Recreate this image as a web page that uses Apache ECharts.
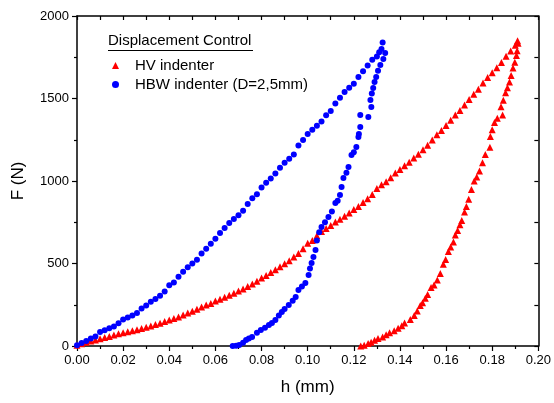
<!DOCTYPE html>
<html>
<head>
  <meta charset="UTF-8">
  <title>Displacement Control</title>
  <script src="https://cdn.jsdelivr.net/npm/echarts@6/dist/echarts.min.js"></script>
  <style>
    html, body { margin: 0; padding: 0; background: #fff; }
    #chart { width: 554px; height: 403px; }
  </style>
</head>
<body>
  <div id="chart"></div>
  <script>
    // h (mm), F (N)
    var hvLoad = [
      [0.000, 5], [0.002, 14], [0.004, 22], [0.006, 30], [0.008, 36], [0.010, 44],
      [0.012, 52], [0.014, 58], [0.016, 66], [0.018, 74], [0.020, 80], [0.022, 86],
      [0.024, 92], [0.026, 98], [0.028, 106], [0.030, 113], [0.032, 121], [0.034, 130],
      [0.036, 138], [0.038, 148], [0.040, 157], [0.042, 166], [0.044, 176], [0.046, 188],
      [0.048, 200], [0.050, 211], [0.052, 222], [0.054, 236], [0.056, 248], [0.058, 258],
      [0.060, 272], [0.062, 284], [0.064, 296], [0.066, 308], [0.068, 320], [0.070, 334],
      [0.072, 346], [0.074, 360], [0.076, 376], [0.078, 392], [0.080, 412], [0.082, 428],
      [0.084, 445], [0.086, 462], [0.088, 480], [0.090, 498], [0.092, 516], [0.094, 540],
      [0.096, 560], [0.098, 590], [0.100, 622], [0.102, 640], [0.104, 668], [0.106, 694],
      [0.108, 712], [0.110, 730], [0.112, 752], [0.114, 768], [0.116, 786], [0.118, 806],
      [0.120, 828], [0.122, 846], [0.124, 870], [0.126, 892], [0.128, 918], [0.130, 954],
      [0.132, 978], [0.134, 996], [0.136, 1020], [0.138, 1048], [0.140, 1070], [0.142, 1092],
      [0.144, 1114], [0.146, 1140], [0.148, 1162], [0.150, 1190], [0.152, 1216], [0.154, 1248],
      [0.156, 1280], [0.158, 1306], [0.160, 1336], [0.162, 1368], [0.164, 1400], [0.166, 1428],
      [0.168, 1460], [0.170, 1494], [0.172, 1526], [0.174, 1556], [0.176, 1594], [0.178, 1628],
      [0.180, 1656], [0.182, 1686], [0.184, 1718], [0.186, 1756], [0.188, 1788], [0.190, 1822],
      [0.191, 1850]
    ];
    var hvUnload = [
      [0.1912, 1835], [0.1908, 1790], [0.1905, 1760], [0.1898, 1720], [0.1890, 1685],
      [0.1882, 1640], [0.1875, 1600], [0.1866, 1565], [0.1858, 1535], [0.1848, 1490],
      [0.1838, 1450], [0.1845, 1400], [0.1822, 1380], [0.1810, 1355], [0.1800, 1310],
      [0.1792, 1270], [0.1790, 1205], [0.1770, 1160], [0.1758, 1110], [0.1745, 1060],
      [0.1733, 1025], [0.1722, 1000], [0.1710, 948], [0.1698, 890], [0.1688, 845],
      [0.1680, 812], [0.1668, 760], [0.1660, 735], [0.1650, 700], [0.1640, 672],
      [0.1632, 630], [0.1620, 600], [0.1610, 572], [0.1598, 525], [0.1588, 495],
      [0.1575, 440], [0.1562, 400], [0.1548, 370], [0.1535, 355], [0.1520, 312],
      [0.1510, 290], [0.1498, 262], [0.1488, 245], [0.1475, 212], [0.1462, 185],
      [0.1445, 160], [0.1420, 140], [0.1408, 122], [0.1392, 108], [0.1375, 92],
      [0.1355, 80], [0.1340, 68], [0.1325, 55], [0.1305, 45], [0.1290, 35],
      [0.1275, 22], [0.1262, 15], [0.1245, 5], [0.1230, 0]
    ];
    var hbwLoad = [
      [0.000, 5], [0.002, 18], [0.004, 30], [0.006, 45], [0.008, 58], [0.010, 85],
      [0.012, 95], [0.014, 108], [0.016, 118], [0.018, 138], [0.020, 160], [0.022, 172],
      [0.024, 185], [0.026, 200], [0.028, 228], [0.030, 245], [0.032, 268], [0.034, 285],
      [0.036, 305], [0.038, 330], [0.040, 368], [0.042, 385], [0.044, 420], [0.046, 450],
      [0.048, 478], [0.050, 500], [0.052, 522], [0.054, 560], [0.056, 590], [0.058, 620],
      [0.060, 650], [0.062, 685], [0.064, 715], [0.066, 745], [0.068, 770], [0.070, 792],
      [0.072, 820], [0.074, 860], [0.076, 895], [0.078, 920], [0.080, 960], [0.082, 990],
      [0.084, 1015], [0.086, 1045], [0.088, 1080], [0.090, 1110], [0.092, 1135], [0.094, 1160],
      [0.096, 1215], [0.098, 1248], [0.100, 1285], [0.102, 1310], [0.104, 1335], [0.106, 1360],
      [0.108, 1398], [0.110, 1425], [0.112, 1470], [0.114, 1505], [0.116, 1540], [0.118, 1565],
      [0.120, 1590], [0.122, 1630], [0.124, 1665], [0.126, 1700], [0.128, 1735], [0.130, 1755],
      [0.131, 1780], [0.132, 1800], [0.1325, 1840]
    ];
    var hbwUnload = [
      [0.1336, 1776], [0.1328, 1740], [0.1315, 1703], [0.1305, 1668], [0.1297, 1630],
      [0.1290, 1600], [0.1284, 1564], [0.1278, 1530], [0.1272, 1491], [0.1276, 1448],
      [0.1263, 1388], [0.1228, 1400], [0.1228, 1327], [0.1222, 1285], [0.1220, 1267],
      [0.1211, 1206], [0.1200, 1175], [0.1190, 1157], [0.1177, 1085], [0.1168, 1050],
      [0.1155, 1018], [0.1147, 964], [0.1140, 915], [0.1130, 880], [0.1120, 867],
      [0.1105, 815], [0.1090, 782], [0.1075, 750], [0.1060, 721], [0.1050, 690],
      [0.1040, 640], [0.1034, 582], [0.1025, 540], [0.1017, 503], [0.1010, 470],
      [0.1004, 430], [0.0990, 382], [0.0975, 360], [0.0960, 339], [0.0948, 297],
      [0.0935, 275], [0.0918, 248], [0.0900, 225], [0.0888, 206], [0.0875, 185],
      [0.0860, 158], [0.0845, 140], [0.0832, 127], [0.0815, 110], [0.0797, 97],
      [0.0780, 80], [0.0759, 55], [0.0745, 45], [0.0733, 36], [0.0720, 20],
      [0.0703, 6], [0.0690, 2], [0.0675, 0]
    ];
    var legendNames = ['HV indenter', 'HBW indenter (D=2,5mm)'];
    var xTicks = { min: 0, max: 0.2, step: 0.02 };
    var yTicks = { min: 0, max: 2000, step: 500 };

    var font = 'Liberation Sans, Arial, sans-serif';
    var black = '#000';

    var chart = echarts.init(document.getElementById('chart'));
    var option = {
      animation: false,
      backgroundColor: '#fff',
      textStyle: { fontFamily: font },
      grid: { left: 77, right: 13, top: 16, bottom: 57 },
      graphic: [
        {
          type: 'text', left: 108, top: 33,
          style: { text: 'Displacement Control', fontSize: 15, fontFamily: font, fill: black }
        },
        {
          type: 'line',
          shape: { x1: 108, y1: 50.5, x2: 253, y2: 50.5 },
          style: { stroke: black, lineWidth: 1 }
        }
      ],
      legend: {
        orient: 'vertical',
        left: 107, top: 53,
        itemWidth: 7, itemHeight: 7, itemGap: 4,
        data: legendNames,
        textStyle: { fontSize: 15, color: black, fontFamily: font, padding: [0, 0, 0, 11] }
      },
      xAxis: [
        {
          type: 'value', min: xTicks.min, max: xTicks.max, interval: xTicks.step,
          name: 'h (mm)', nameLocation: 'middle', nameGap: 33,
          nameTextStyle: { fontSize: 17, color: black, fontFamily: font },
          axisLine: { lineStyle: { color: black, width: 1.5 } },
          axisTick: { inside: false, length: 5, lineStyle: { color: black, width: 1.2 } },
          minorTick: { show: true, splitNumber: 2, length: 3, lineStyle: { color: black, width: 1.2 } },
          axisLabel: { fontSize: 13, color: black, margin: 8, formatter: function (v) { return v.toFixed(2); } },
          splitLine: { show: false }
        },
        {
          type: 'value', position: 'top', min: xTicks.min, max: xTicks.max, interval: xTicks.step / 2,
          axisLine: { onZero: false, lineStyle: { color: black, width: 1.5 } },
          axisTick: { show: true, inside: true, length: 4, lineStyle: { color: black, width: 1.2 } },
          axisLabel: { show: false },
          splitLine: { show: false }
        }
      ],
      yAxis: [
        {
          type: 'value', min: yTicks.min, max: yTicks.max, interval: yTicks.step,
          name: 'F (N)', nameLocation: 'middle', nameGap: 50, nameRotate: 90,
          nameTextStyle: { fontSize: 17, color: black, fontFamily: font },
          axisLine: { show: true, lineStyle: { color: black, width: 1.5 } },
          axisTick: { show: true, inside: false, length: 5, lineStyle: { color: black, width: 1.2 } },
          minorTick: { show: true, splitNumber: 2, length: 3, lineStyle: { color: black, width: 1.2 } },
          axisLabel: { fontSize: 13, color: black, margin: 8, formatter: function (v) { return String(v); } },
          splitLine: { show: false }
        },
        {
          type: 'value', position: 'right', min: yTicks.min, max: yTicks.max, interval: yTicks.step / 2,
          axisLine: { show: true, onZero: false, lineStyle: { color: black, width: 1.5 } },
          axisTick: { show: true, inside: true, length: 4, lineStyle: { color: black, width: 1.2 } },
          axisLabel: { show: false },
          splitLine: { show: false }
        }
      ],
      series: [
        {
          name: legendNames[0], type: 'scatter', symbol: 'triangle', symbolSize: 7,
          itemStyle: { color: '#ff0000', opacity: 1 },
          data: hvLoad.concat(hvUnload)
        },
        {
          name: legendNames[1], type: 'scatter', symbol: 'circle', symbolSize: 6,
          itemStyle: { color: '#0000ff', opacity: 1 },
          data: hbwLoad.concat(hbwUnload)
        }
      ]
    };
    chart.setOption(option);
  </script>
</body>
</html>
